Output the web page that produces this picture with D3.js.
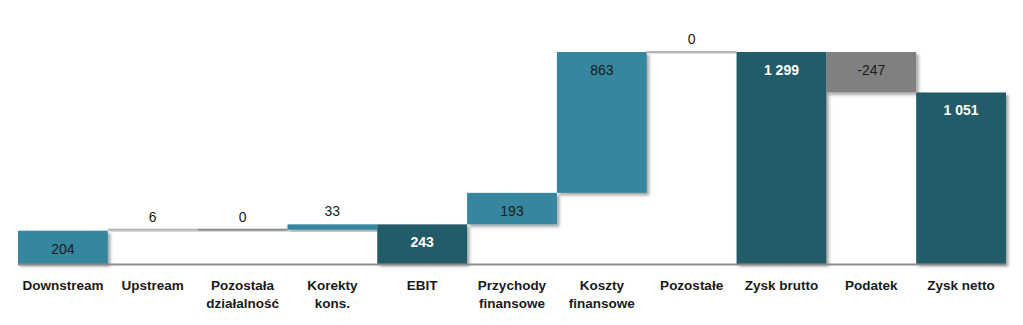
<!DOCTYPE html>
<html><head><meta charset="utf-8">
<script src="https://cdn.jsdelivr.net/npm/d3@7"></script>
<style>
html,body{margin:0;padding:0;background:#fff;}
svg{display:block;font-family:"Liberation Sans",Arial,sans-serif;}
</style></head>
<body><svg id="c" width="1023" height="325"></svg>
<script>
const categories = ["Downstream","Upstream","Pozostała działalność","Korekty kons.","EBIT","Przychody finansowe","Koszty finansowe","Pozostałe","Zysk brutto","Podatek","Zysk netto"];
const categoryLines = [["Downstream"],["Upstream"],["Pozostała","działalność"],["Korekty","kons."],["EBIT"],["Przychody","finansowe"],["Koszty","finansowe"],["Pozostałe"],["Zysk brutto"],["Podatek"],["Zysk netto"]];
const values = [204, 6, 0, 33, 243, 193, 863, 0, 1299, -247, 1051];
const barTypes = ["delta","delta","delta","delta","total","delta","delta","delta","total","delta","total"];
const valueLabels = ["204","6","0","33","243","193","863","0","1 299","-247","1 051"];
const kinds = ["inc","light","zero","inc","total","inc","inc","light","total","dec","total"];

const colors = {inc:"#34879f", light:"#b4b4b4", zero:"#8a8a8a", total:"#225b69", dec:"#808080"};

const svg = d3.select("#c");
const defs = svg.append("defs");
const f = defs.append("filter").attr("id","sh").attr("x","-10%").attr("y","-10%").attr("width","130%").attr("height","140%");
f.append("feDropShadow").attr("dx",2.5).attr("dy",2.5).attr("stdDeviation",1.6).attr("flood-color","#000").attr("flood-opacity",0.35);

const x = d3.scaleBand().domain(categories).range([18,1006]).padding(0);
const y = d3.scaleLinear().domain([0,1299]).range([264,52]);

let run = 0;
const bars = categories.map((c,i)=>{
  let s,e;
  if (barTypes[i]==="total"){ s=0; e=values[i]; run=values[i]; }
  else { s=run; e=run+values[i]; run=e; }
  return {c, s, e, kind:kinds[i], label:valueLabels[i], i};
});

const g = svg.append("g");
g.selectAll("rect").data(bars).join("rect")
  .attr("x", d=>x(d.c))
  .attr("width", x.bandwidth())
  .attr("y", d=>{ const t=Math.min(y(d.s),y(d.e)); const h=Math.abs(y(d.s)-y(d.e)); return h<2? t-1 : t; })
  .attr("height", d=>Math.max(2, Math.abs(y(d.s)-y(d.e))))
  .attr("fill", d=>colors[d.kind])
  .attr("filter","url(#sh)");

const ax = svg.append("g").attr("transform","translate(0,264)").call(d3.axisBottom(x).tickSize(0).tickFormat(""));
ax.select(".domain").attr("stroke","#8c8c8c").attr("stroke-width",2).attr("d","M18,0.5H1006");

ax.selectAll(".tick").each(function(d){
  const i = categories.indexOf(d);
  const t = d3.select(this).select("text").attr("y",null).attr("dy",null)
    .attr("font-size","13.5px").attr("font-weight","bold").attr("fill","#1a1a1a").attr("text-anchor","middle").text(null);
  categoryLines[i].forEach((ln,k)=>{ t.append("tspan").attr("x",0).attr("y",26+k*18).text(ln); });
});

g.selectAll("text.v").data(bars).join("text").attr("class","v")
  .attr("x", d=>x(d.c)+x.bandwidth()/2)
  .attr("y", d=>{ const t=Math.min(y(d.s),y(d.e)); const h=Math.abs(y(d.s)-y(d.e)); return h>20 ? t+23 : t-8; })
  .attr("text-anchor","middle")
  .attr("font-size","14px")
  .attr("font-weight", d=>d.kind==="total"?"bold":"normal")
  .attr("fill", d=>d.kind==="total"?"#ffffff":"#1a1a1a")
  .text(d=>d.label);
</script></body></html>
